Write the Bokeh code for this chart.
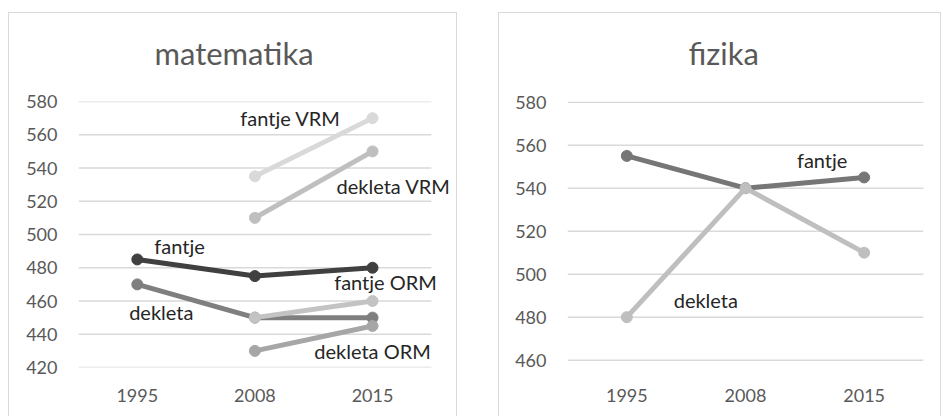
from bokeh.plotting import figure
from bokeh.models import Range1d, FixedTicker, LabelSet, ColumnDataSource, Title
from bokeh.core.properties import value
from bokeh.layouts import row
from bokeh.embed import file_html
from bokeh.resources import INLINE

# ---------------- data ----------------
years = ["1995", "2008", "2015"]

math_ticks = [420, 440, 460, 480, 500, 520, 540, 560, 580]
math_fantje = [485, 475, 480]
math_dekleta = [470, 450, 450]
math_fantje_vrm = [None, 535, 570]
math_dekleta_vrm = [None, 510, 550]
math_fantje_orm = [None, 450, 460]
math_dekleta_orm = [None, 430, 445]

phys_ticks = [460, 480, 500, 520, 540, 560, 580]
phys_fantje = [555, 540, 545]
phys_dekleta = [480, 540, 510]

FONT = "Lato"
TICK_COLOR = "#595959"
GRID_COLOR = "#d9d9d9"
TEXT_COLOR = "#262626"
XI = list(range(len(years)))          # category positions


def border_css(left, right, top):
    g = "linear-gradient(#d9d9d9,#d9d9d9)"
    return {
        "background-image": ", ".join([g, g, g]),
        "background-position": f"{left}px {top}px, {left}px {top}px, {right}px {top}px",
        "background-size": f"1px 100%, {right - left + 1}px 1px, 1px 100%",
        "background-repeat": "no-repeat",
    }


def make_fig(title, ticks, width, x_end, y_range, mb_left, mb_right, title_offset, css):
    p = figure(x_range=Range1d(-0.5, x_end), y_range=y_range,
               width=width, height=416, output_backend="svg",
               toolbar_location=None,
               min_border_left=mb_left, min_border_right=mb_right,
               min_border_top=101, min_border_bottom=49)
    p.styles = css
    p.outline_line_color = None
    p.background_fill_color = "white"
    p.border_fill_color = None
    t = Title(text=title, text_font=FONT, text_font_size="31px",
              text_font_style="normal", text_color=TICK_COLOR,
              align="left", offset=title_offset, standoff=60,
              vertical_align="bottom")
    p.add_layout(t, "above")
    p.yaxis.ticker = FixedTicker(ticks=ticks)
    p.xaxis.ticker = FixedTicker(ticks=XI)
    p.xaxis.major_label_overrides = {i: y for i, y in zip(XI, years)}
    for ax in (p.xaxis[0], p.yaxis[0]):
        ax.axis_line_color = None
        ax.major_tick_line_color = None
        ax.minor_tick_line_color = None
        ax.major_tick_out = 0
        ax.major_tick_in = 0
        ax.minor_tick_out = 0
        ax.major_label_text_font = FONT
        ax.major_label_text_font_size = "18px"
        ax.major_label_text_color = TICK_COLOR
    p.yaxis.major_label_standoff = 21
    p.xaxis.major_label_standoff = 21
    p.xgrid.grid_line_color = None
    p.ygrid.grid_line_color = None
    # horizontal gridlines spanning the category band
    p.segment(x0=[XI[0] - 0.5] * len(ticks), x1=[XI[-1] + 0.5] * len(ticks),
              y0=ticks, y1=ticks, line_color=GRID_COLOR, line_width=1.5)
    return p


def add_series(p, vals, color):
    xs = [i for i, v in zip(XI, vals) if v is not None]
    ys = [v for v in vals if v is not None]
    p.line(xs, ys, line_color=color, line_width=5)
    p.scatter(xs, ys, size=11, fill_color=color, line_color=color)


def add_labels(p, items):
    # items: (text, year index, value, dx, dy, align)
    for align in ("left", "center", "right"):
        sel = [it for it in items if it[5] == align]
        if not sel:
            continue
        src = ColumnDataSource(dict(
            text=[it[0] for it in sel], x=[it[1] for it in sel],
            y=[it[2] for it in sel], dx=[it[3] for it in sel],
            dy=[it[4] for it in sel]))
        p.add_layout(LabelSet(x="x", y="y", text="text", x_offset="dx", y_offset="dy",
                              source=src, text_align=align, text_baseline="middle",
                              text_font=value(FONT), text_font_size=value("20px"),
                              text_color=TEXT_COLOR))


# ---------------- matematika ----------------
p1 = make_fig("matematika", math_ticks, 457, 2.68, Range1d(420, 580), 78, 5, 76,
              border_css(8, 456, 12))
add_series(p1, math_fantje, "#404040")
add_series(p1, math_dekleta, "#7f7f7f")
add_series(p1, math_fantje_vrm, "#d9d9d9")
add_series(p1, math_dekleta_vrm, "#bfbfbf")
add_series(p1, math_fantje_orm, "#c3c3c3")
add_series(p1, math_dekleta_orm, "#a6a6a6")

add_labels(p1, [
    ("fantje VRM", XI[2], math_fantje_vrm[2], -32, 0, "right"),
    ("dekleta VRM", XI[2], math_dekleta_vrm[2], 21, -35, "center"),
    ("fantje", XI[0], math_fantje[0], 17, 13, "left"),
    ("fantje ORM", XI[2], math_fantje_orm[2], 13, 19, "center"),
    ("dekleta", XI[0], math_dekleta[0], 24, -28, "center"),
    ("dekleta ORM", XI[2], math_dekleta_orm[2], 0, -25, "center"),
])

# ---------------- fizika ----------------
p2 = make_fig("fizika", phys_ticks, 484, 2.5, Range1d(456.6, 580.3), 110, 18, 121,
              border_css(41, 483, 12))
add_series(p2, phys_fantje, "#767676")
add_series(p2, phys_dekleta, "#bfbfbf")

add_labels(p2, [
    ("fantje", XI[2], phys_fantje[2], -42, 17, "center"),
    ("dekleta", XI[0], phys_dekleta[0], 79, 17, "center"),
])

layout = row(p1, p2, spacing=0)
open("out.html", "w").write(file_html(layout, INLINE))
